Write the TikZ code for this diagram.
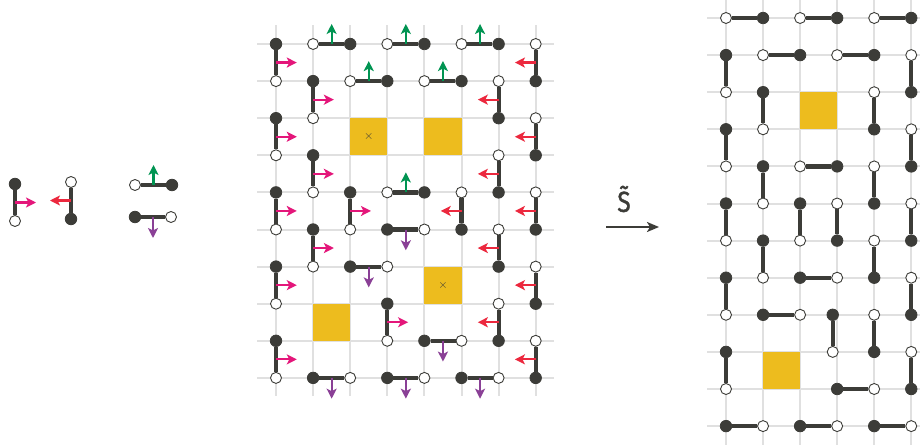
\documentclass[tikz,border=0pt]{standalone}
\usepackage{fontspec}
\newfontfamily\labelfont{Fira Sans}[FakeBold=1.2]
\usetikzlibrary{arrows.meta,calc}
\definecolor{ink}{RGB}{60,60,56}
\definecolor{gridc}{RGB}{224,224,224}
\definecolor{sq}{RGB}{237,188,30}
\definecolor{apink}{RGB}{228,22,122}
\definecolor{ared}{RGB}{236,40,62}
\definecolor{agreen}{RGB}{0,148,82}
\definecolor{apurple}{RGB}{138,64,150}
\tikzset{
  gline/.style={draw=gridc, line width=2pt},
  fdot/.style={circle, fill=ink, draw=ink, line width=0.8pt, inner sep=0pt, minimum size=11.5pt},
  odot/.style={circle, fill=white, draw=ink, line width=0.9pt, inner sep=0pt, minimum size=11pt},
  dimer/.style={draw=ink, line width=4.2pt},
  arr/.style={line width=2.2pt, -{Stealth[length=10pt,width=10pt,inset=2.5pt]}},
  arrp/.style={arr, draw=apink, fill=apink},
  arrr/.style={arr, draw=ared, fill=ared},
  arrg/.style={arr, draw=agreen, fill=agreen},
  arru/.style={arr, draw=apurple, fill=apurple},
  tile/.style={fill=sq, draw=none},
  xmark/.style={text=ink, inner sep=0pt, font=\large},
  rdot0/.style={odot}, rdot1/.style={fdot},
  maparrow/.style={draw=ink, line width=2.2pt, -{Stealth[length=12pt,width=10pt,inset=3pt]}},
}
\begin{document}
\begin{tikzpicture}[x=1pt,y=-1pt]
\clip (0,0) rectangle (920,444);
\fill[white] (0,0) rectangle (920,444);

% ---------------- legend ----------------
\node[fdot] (lp1) at (15,184) {};
\node[odot] (lp2) at (15,221) {};
\draw[dimer] (lp1) -- (lp2);
\draw[arrp] ($(lp1)!.5!(lp2)$) -- ++(21,0);

\node[odot] (lr1) at (71,182) {};
\node[fdot] (lr2) at (71,219) {};
\draw[dimer] (lr1) -- (lr2);
\draw[arrr] ($(lr1)!.5!(lr2)$) -- ++(-21,0);

\node[odot] (lg1) at (135,185) {};
\node[fdot] (lg2) at (172,185) {};
\draw[dimer] (lg1) -- (lg2);
\draw[arrg] ($(lg1)!.5!(lg2)$) -- ++(0,-20);

\node[fdot] (lu1) at (135,217) {};
\node[odot] (lu2) at (171,217) {};
\draw[dimer] (lu1) -- (lu2);
\draw[arru] ($(lu1)!.5!(lu2)$) -- ++(0,21);

% ---------------- middle grid ----------------
\begin{scope}[shift={(276pt,-44pt)}, x=37.1pt, y=-37.1pt]
  \foreach \c in {0,...,7} \draw[gline] (\c,-0.5) -- (\c,9.5);
  \foreach \r in {0,...,9} \draw[gline] (-0.5,\r) -- (7.5,\r);
  \fill[tile] (2,2) rectangle (3,3);
  \fill[tile] (4,2) rectangle (5,3);
  \fill[tile] (4,6) rectangle (5,7);
  \fill[tile] (1,7) rectangle (2,8);
  \node[xmark] (mx1) at (2.5,2.5) {$\times$};
  \node[xmark] (mx2) at (4.5,6.5) {$\times$};
  % vertical, top filled: pink right
  \foreach \c/\r in {0/0,1/1,0/2,1/3,0/4,2/4,1/5,0/6,3/7,0/8} {
    \pgfmathtruncatemacro\rr{\r+1}
    \node[fdot] (m-\c-\r) at (\c,\r) {};
    \node[odot] (m-\c-\rr) at (\c,\rr) {};
    \draw[dimer] (m-\c-\r) -- (m-\c-\rr);
    \draw[arrp] ($(m-\c-\r)!.5!(m-\c-\rr)$) -- ++(0.56,0);
  }
  % vertical, top open: red left
  \foreach \c/\r in {7/0,6/1,7/2,6/3,5/4,7/4,6/5,7/6,6/7,7/8} {
    \pgfmathtruncatemacro\rr{\r+1}
    \node[odot] (m-\c-\r) at (\c,\r) {};
    \node[fdot] (m-\c-\rr) at (\c,\rr) {};
    \draw[dimer] (m-\c-\r) -- (m-\c-\rr);
    \draw[arrr] ($(m-\c-\r)!.5!(m-\c-\rr)$) -- ++(-0.56,0);
  }
  % horizontal, left open: green up
  \foreach \c/\r in {1/0,3/0,5/0,2/1,4/1,3/4} {
    \pgfmathtruncatemacro\cc{\c+1}
    \node[odot] (m-\c-\r) at (\c,\r) {};
    \node[fdot] (m-\cc-\r) at (\cc,\r) {};
    \draw[dimer] (m-\c-\r) -- (m-\cc-\r);
    \draw[arrg] ($(m-\c-\r)!.5!(m-\cc-\r)$) -- ++(0,-0.54);
  }
  % horizontal, left filled: purple down
  \foreach \c/\r in {3/5,2/6,4/8,1/9,3/9,5/9} {
    \pgfmathtruncatemacro\cc{\c+1}
    \node[fdot] (m-\c-\r) at (\c,\r) {};
    \node[odot] (m-\cc-\r) at (\cc,\r) {};
    \draw[dimer] (m-\c-\r) -- (m-\cc-\r);
    \draw[arru] ($(m-\c-\r)!.5!(m-\cc-\r)$) -- ++(0,0.56);
  }
\end{scope}

% ---------------- map arrow ----------------
\node[inner sep=0pt, font=\labelfont\fontsize{29}{31}\selectfont, text=ink, xscale=0.85] (lab) at (624,199) {\~{S}};
\coordinate (ma1) at (606,227);
\coordinate (ma2) at (659,227);
\draw[maparrow] (ma1) -- (ma2);

% ---------------- right grid ----------------
\begin{scope}[shift={(726pt,-18pt)}, x=37.05pt, y=-37.1pt]
  \foreach \c in {0,...,5} \draw[gline] (\c,-0.6) -- (\c,11.6);
  \foreach \r in {0,...,11} \draw[gline] (-0.5,\r) -- (5.6,\r);
  \fill[tile] (2,2) rectangle (3,3);
  \fill[tile] (1,9) rectangle (2,10);
  % vertical dimers
  \foreach \c/\r in {0/1,5/1,1/2,4/2,0/3,5/3,1/4,4/4,0/5,2/5,3/5,5/5,1/6,4/6,0/7,5/7,4/8,0/9,5/9} {
    \pgfmathtruncatemacro\rr{\r+1}
    \pgfmathtruncatemacro\pa{mod(\c+\r,2)}
    \pgfmathtruncatemacro\pb{mod(\c+\r+1,2)}
    \node[rdot\pa] (r-\c-\r) at (\c,\r) {};
    \node[rdot\pb] (r-\c-\rr) at (\c,\rr) {};
    \draw[dimer] (r-\c-\r) -- (r-\c-\rr);
  }
  % horizontal dimers
  \foreach \c/\r in {0/0,2/0,4/0,1/1,3/1,2/4,2/7,1/8,3/10,0/11,2/11,4/11} {
    \pgfmathtruncatemacro\cc{\c+1}
    \pgfmathtruncatemacro\pa{mod(\c+\r,2)}
    \pgfmathtruncatemacro\pb{mod(\c+\r+1,2)}
    \node[rdot\pa] (r-\c-\r) at (\c,\r) {};
    \node[rdot\pb] (r-\cc-\r) at (\cc,\r) {};
    \draw[dimer] (r-\c-\r) -- (r-\cc-\r);
  }
  % slightly shifted vertical dimer
  \node[fdot] (r-3-8) at (2.88,8) {};
  \node[odot] (r-3-9) at (2.88,9) {};
  \draw[dimer] (r-3-8) -- (r-3-9);
\end{scope}
\end{tikzpicture}
\end{document}
